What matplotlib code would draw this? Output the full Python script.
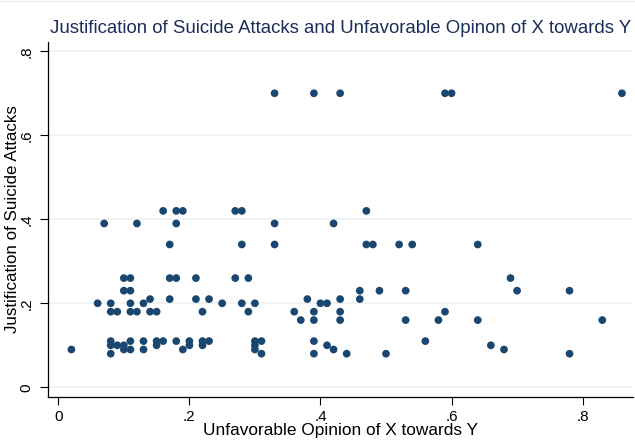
import matplotlib
matplotlib.use("Agg")
import matplotlib.pyplot as plt
from matplotlib.lines import Line2D

# Data: (unfavorable opinion, justification) grouped by justification level
y_070 = [0.33, 0.39, 0.43, 0.59, 0.60, 0.86]
y_042 = [0.16, 0.18, 0.19, 0.27, 0.28, 0.47]
y_039 = [0.07, 0.12, 0.18, 0.33, 0.42]
y_034 = [0.17, 0.28, 0.33, 0.47, 0.48, 0.52, 0.54, 0.64]
y_026 = [0.10, 0.11, 0.17, 0.18, 0.21, 0.27, 0.29, 0.69]
y_023 = [0.10, 0.11, 0.46, 0.49, 0.53, 0.70, 0.78]
y_021 = [0.14, 0.17, 0.21, 0.23, 0.38, 0.43, 0.46]
y_020 = [0.06, 0.08, 0.11, 0.13, 0.25, 0.28, 0.30, 0.40, 0.41]
y_018 = [0.08, 0.09, 0.11, 0.12, 0.14, 0.15, 0.22, 0.29, 0.36, 0.39, 0.43, 0.59]
y_016 = [0.37, 0.39, 0.43, 0.53, 0.58, 0.64, 0.83]
y_011 = [0.08, 0.11, 0.13, 0.15, 0.16, 0.18, 0.20, 0.22, 0.23, 0.30, 0.31, 0.39, 0.56]
y_010 = [0.08, 0.09, 0.10, 0.15, 0.20, 0.22, 0.30, 0.41, 0.66]
y_009 = [0.02, 0.10, 0.11, 0.13, 0.19, 0.30, 0.42, 0.68]
y_008 = [0.08, 0.31, 0.39, 0.44, 0.50, 0.78]

groups = {0.70: y_070, 0.42: y_042, 0.39: y_039, 0.34: y_034, 0.26: y_026,
          0.23: y_023, 0.21: y_021, 0.20: y_020, 0.18: y_018, 0.16: y_016,
          0.11: y_011, 0.10: y_010, 0.09: y_009, 0.08: y_008}

x_ticks = [0, 0.2, 0.4, 0.6, 0.8]
x_tick_labels = ["0", ".2", ".4", ".6", ".8"]
y_ticks = [0, 0.2, 0.4, 0.6, 0.8]
y_tick_labels = ["0", ".2", ".4", ".6", ".8"]

xs, ys = [], []
for yv, xl in groups.items():
    for xv in xl:
        xs.append(xv)
        ys.append(yv)

plt.rcParams['font.family'] = ['Liberation Sans', 'DejaVu Sans']

fig = plt.figure(figsize=(6.35, 4.43), dpi=100)
fig.patch.set_facecolor('white')
ax = fig.add_axes([0.076, 0.1045, 0.921, 0.8015])

ax.scatter(xs, ys, s=31, color='#1a476f', edgecolors='none', zorder=3)

ax.set_xlim(-0.0153, 0.877)
ax.set_ylim(-0.0224, 0.8229)

ax.set_xticks(x_ticks)
ax.set_xticklabels(x_tick_labels)
ax.set_yticks(y_ticks)
ax.set_yticklabels(y_tick_labels, rotation=90, va='center')

ax.tick_params(axis='both', direction='out', length=6, width=0.8, color='black',
               labelsize=11, labelcolor='black')
ax.tick_params(axis='x', pad=3.5)
ax.tick_params(axis='y', pad=4.5)

ax.grid(axis='y', color='#eaf0f2', linewidth=1.1, zorder=0)
ax.grid(axis='x', visible=False)
ax.set_axisbelow(True)

for s in ['top', 'right']:
    ax.spines[s].set_visible(False)
for s in ['left', 'bottom']:
    ax.spines[s].set_color('black')
    ax.spines[s].set_linewidth(0.9)

ax.set_xlabel("Unfavorable Opinion of X towards Y", fontsize=12.4, va='center')
ax.xaxis.set_label_coords(0.5, -0.094)
ax.set_ylabel("Justification of Suicide Attacks", fontsize=12.2, va='center')
ax.yaxis.set_label_coords(-0.062, 0.5)

fig.text(0.079, 0.935, "Justification of Suicide Attacks and Unfavorable Opinon of X towards Y",
         fontsize=13.4, color='#1c2d5a', ha='left', va='center')

fig.add_artist(Line2D([0, 1], [0.998, 0.998], color='#eaf0f2', linewidth=1,
                      transform=fig.transFigure))

fig.savefig("out.png", dpi=100, facecolor='white')
